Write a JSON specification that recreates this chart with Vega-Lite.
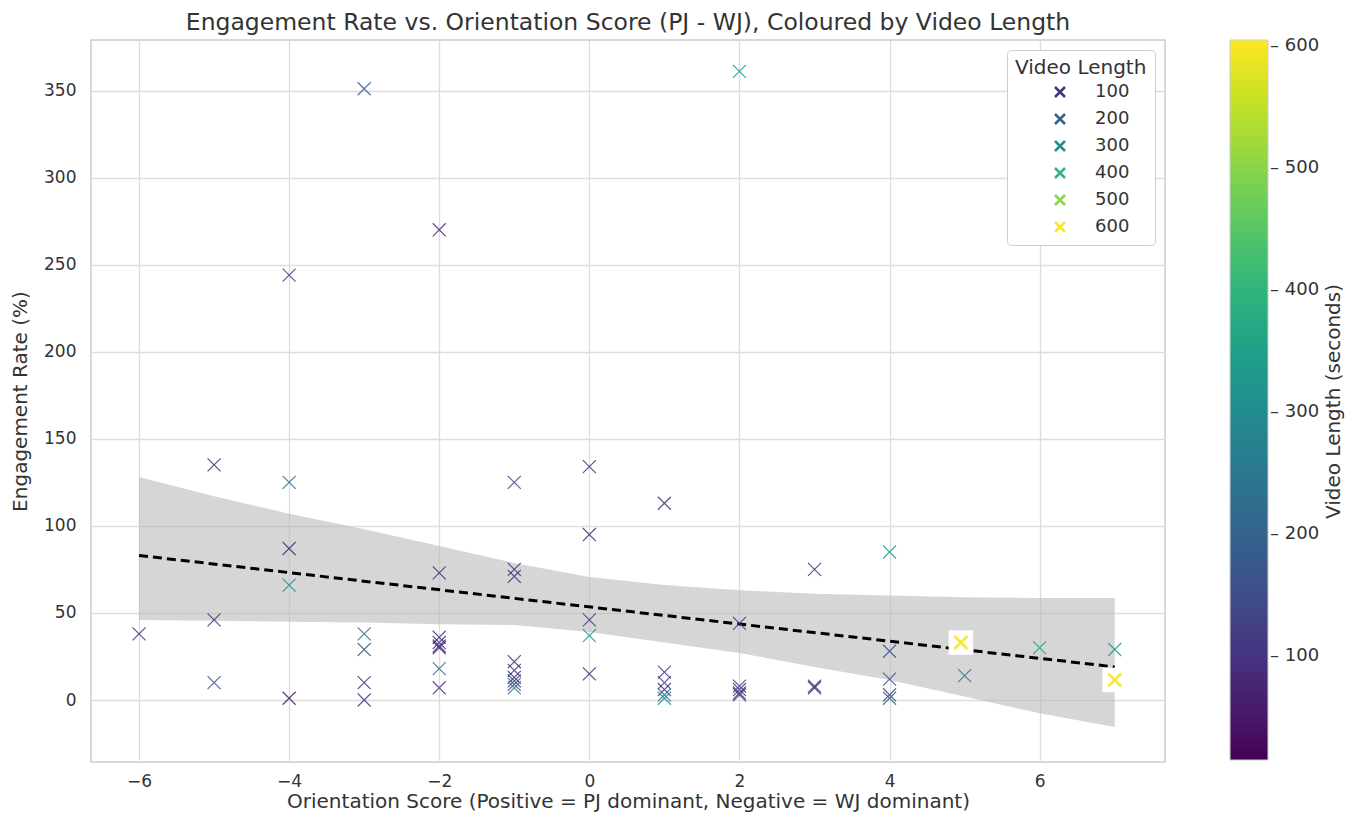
{
  "$schema": "https://vega.github.io/schema/vega-lite/v6.json",
  "width": 1074,
  "height": 722,
  "autosize": {"type": "none"},
  "padding": {"left": 91, "top": 40, "right": 188, "bottom": 65},
  "background": "white",
  "config": {
    "font": "DejaVu Sans",
    "view": {"stroke": "#cccccc", "strokeWidth": 1.5},
    "axis": {
      "grid": true, "gridColor": "#dddddd", "gridWidth": 1.3,
      "domain": false, "ticks": false,
      "labelFontSize": 17, "labelColor": "#333333",
      "titleFontSize": 20, "titleFontWeight": "normal", "titleColor": "#333333",
      "labelFont": "DejaVu Sans", "titleFont": "DejaVu Sans"
    },
    "legend": {"labelFont": "DejaVu Sans", "titleFont": "DejaVu Sans", "labelColor": "#333333", "titleColor": "#333333", "titleLimit": 900}
  },
  "title": {
    "text": "Engagement Rate vs. Orientation Score (PJ - WJ), Coloured by Video Length",
    "fontSize": 23.5, "fontWeight": "normal", "color": "#333333", "anchor": "middle", "offset": 6, "font": "DejaVu Sans"
  },
  "datasets": {
    "pts": [
      {"score": -6, "rate": 38, "len": 90},
      {"score": -5, "rate": 135, "len": 90},
      {"score": -5, "rate": 46, "len": 90},
      {"score": -5, "rate": 10, "len": 170},
      {"score": -4, "rate": 244, "len": 130},
      {"score": -4, "rate": 125, "len": 230},
      {"score": -4, "rate": 87, "len": 90},
      {"score": -4, "rate": 66, "len": 300},
      {"score": -4, "rate": 1, "len": 60},
      {"score": -3, "rate": 351, "len": 180},
      {"score": -3, "rate": 38, "len": 220},
      {"score": -3, "rate": 29, "len": 200},
      {"score": -3, "rate": 10, "len": 100},
      {"score": -3, "rate": 0, "len": 120},
      {"score": -2, "rate": 270, "len": 80},
      {"score": -2, "rate": 73, "len": 90},
      {"score": -2, "rate": 36, "len": 100},
      {"score": -2, "rate": 33, "len": 90},
      {"score": -2, "rate": 31, "len": 110},
      {"score": -2, "rate": 30, "len": 80},
      {"score": -2, "rate": 18, "len": 220},
      {"score": -2, "rate": 7, "len": 100},
      {"score": -1, "rate": 125, "len": 140},
      {"score": -1, "rate": 75, "len": 100},
      {"score": -1, "rate": 71, "len": 90},
      {"score": -1, "rate": 22, "len": 100},
      {"score": -1, "rate": 17, "len": 110},
      {"score": -1, "rate": 13, "len": 90},
      {"score": -1, "rate": 11, "len": 120},
      {"score": -1, "rate": 9, "len": 150},
      {"score": -1, "rate": 7, "len": 260},
      {"score": 0, "rate": 134, "len": 100},
      {"score": 0, "rate": 95, "len": 90},
      {"score": 0, "rate": 46, "len": 120},
      {"score": 0, "rate": 37, "len": 330},
      {"score": 0, "rate": 15, "len": 90},
      {"score": 1, "rate": 113, "len": 90},
      {"score": 1, "rate": 16, "len": 100},
      {"score": 1, "rate": 10, "len": 110},
      {"score": 1, "rate": 6, "len": 100},
      {"score": 1, "rate": 3, "len": 230},
      {"score": 1, "rate": 1, "len": 310},
      {"score": 2, "rate": 361, "len": 320},
      {"score": 2, "rate": 44, "len": 100},
      {"score": 2, "rate": 8, "len": 120},
      {"score": 2, "rate": 6, "len": 100},
      {"score": 2, "rate": 4, "len": 90},
      {"score": 2, "rate": 3, "len": 110},
      {"score": 3, "rate": 75, "len": 100},
      {"score": 3, "rate": 8, "len": 90},
      {"score": 3, "rate": 7, "len": 70},
      {"score": 4, "rate": 85, "len": 350},
      {"score": 4, "rate": 28, "len": 160},
      {"score": 4, "rate": 12, "len": 170},
      {"score": 4, "rate": 3, "len": 130},
      {"score": 4, "rate": 1, "len": 200},
      {"score": 4.95, "rate": 33, "len": 600},
      {"score": 5, "rate": 14, "len": 250},
      {"score": 6, "rate": 30, "len": 380},
      {"score": 7, "rate": 29, "len": 320},
      {"score": 7, "rate": 11.5, "len": 600}
    ],
    "band": [
      {"score": -6, "lo": 46, "hi": 128},
      {"score": -5, "lo": 45.5, "hi": 117},
      {"score": -4, "lo": 45, "hi": 107},
      {"score": -3, "lo": 44.5, "hi": 98},
      {"score": -2, "lo": 43.5, "hi": 88.5},
      {"score": -1, "lo": 43, "hi": 78.7},
      {"score": 0, "lo": 39, "hi": 70.7},
      {"score": 1, "lo": 33, "hi": 66},
      {"score": 2, "lo": 27, "hi": 63},
      {"score": 3, "lo": 19, "hi": 61},
      {"score": 4, "lo": 11.5, "hi": 60},
      {"score": 5, "lo": 2, "hi": 59},
      {"score": 6, "lo": -7.6, "hi": 58.6},
      {"score": 7, "lo": -15.5, "hi": 58.6}
    ],
    "fit": [
      {"score": -6, "rate": 83},
      {"score": 7, "rate": 19}
    ]
  },
  "layer": [
    {
      "layer": [
        {
          "data": {"name": "band"},
          "mark": {"type": "area", "color": "#bbbbbb", "opacity": 0.6},
          "encoding": {
            "x": {"field": "score", "type": "quantitative",
              "scale": {"domain": [-6.64, 7.67], "nice": false, "zero": false},
              "axis": {"values": [-6, -4, -2, 0, 2, 4, 6], "format": "d", "title": "Orientation Score (Positive = PJ dominant, Negative = WJ dominant)", "labelPadding": 11, "titlePadding": 2}},
            "y": {"field": "lo", "type": "quantitative",
              "scale": {"domain": [-35.6, 379], "nice": false, "zero": false},
              "axis": {"values": [0, 50, 100, 150, 200, 250, 300, 350], "title": "Engagement Rate (%)", "labelPadding": 15, "titlePadding": 13}},
            "y2": {"field": "hi"}
          }
        },
        {
          "data": {"name": "fit"},
          "mark": {"type": "line", "color": "black", "strokeDash": [9, 5], "strokeWidth": 3},
          "encoding": {
            "x": {"field": "score", "type": "quantitative"},
            "y": {"field": "rate", "type": "quantitative"}
          }
        },
        {
          "data": {"name": "pts"},
          "transform": [{"filter": "datum.len >= 550"}],
          "mark": {"type": "point", "shape": "square", "filled": true, "color": "white", "size": 600, "opacity": 1},
          "encoding": {
            "x": {"field": "score", "type": "quantitative"},
            "y": {"field": "rate", "type": "quantitative"}
          }
        },
        {
          "data": {"name": "pts"},
          "mark": {"type": "point", "shape": "M-1,-1L1,1M-1,1L1,-1", "filled": false, "size": 170, "opacity": 1, "strokeOpacity": 0.85},
          "encoding": {
            "x": {"field": "score", "type": "quantitative"},
            "y": {"field": "rate", "type": "quantitative"},
            "strokeWidth": {"condition": {"test": "datum.len >= 550", "value": 3}, "value": 1.2},
            "color": {"field": "len", "type": "quantitative",
              "scale": {"scheme": "viridis", "domain": [15, 605], "nice": false, "zero": false},
              "legend": {
                "type": "gradient", "orient": "none", "legendX": 1139, "legendY": 0,
                "gradientLength": 720, "gradientThickness": 38,
                "values": [100, 200, 300, 400, 500, 600],
                "labelFontSize": 18, "labelExpr": "'– ' + datum.label", "labelOffset": 2,
                "title": null,
                "gradientStrokeColor": "#cccccc", "gradientStrokeWidth": 1
              }}
          }
        }
      ]
    },
    {
      "data": {"name": "pts"},
      "mark": {"type": "point", "shape": "M-1,-1L1,1M-1,1L1,-1", "filled": false, "size": 170, "opacity": 0},
      "encoding": {
        "x": {"field": "score", "type": "quantitative"},
        "y": {"field": "rate", "type": "quantitative",
          "scale": {"domain": [-35.6, 379], "nice": false, "zero": false},
          "axis": {"orient": "right", "labels": false, "grid": false, "ticks": false, "domain": false,
            "title": "Video Length (seconds)", "titleAngle": 270, "titleX": 168, "titleY": 361,
            "titleAlign": "center", "titleBaseline": "middle", "titleFontSize": 20}},
        "color": {"field": "len", "type": "quantitative",
          "scale": {"scheme": "viridis", "domain": [15, 605], "nice": false, "zero": false},
          "legend": {
            "type": "symbol", "orient": "top-right", "offset": 10,
            "values": [100, 200, 300, 400, 500, 600],
            "title": "Video Length", "titleFontSize": 20, "titleFontWeight": "normal",
            "labelFontSize": 18, "symbolType": "M-1,-1L1,1M-1,1L1,-1",
            "symbolSize": 100, "symbolStrokeWidth": 2.5, "symbolOpacity": 1,
            "symbolOffset": 36, "labelOffset": 26, "rowPadding": 7,
            "strokeColor": "#cccccc", "fillColor": "white", "padding": 8, "cornerRadius": 4
          }}
      }
    }
  ],
  "resolve": {"scale": {"color": "independent", "y": "independent"}}
}
